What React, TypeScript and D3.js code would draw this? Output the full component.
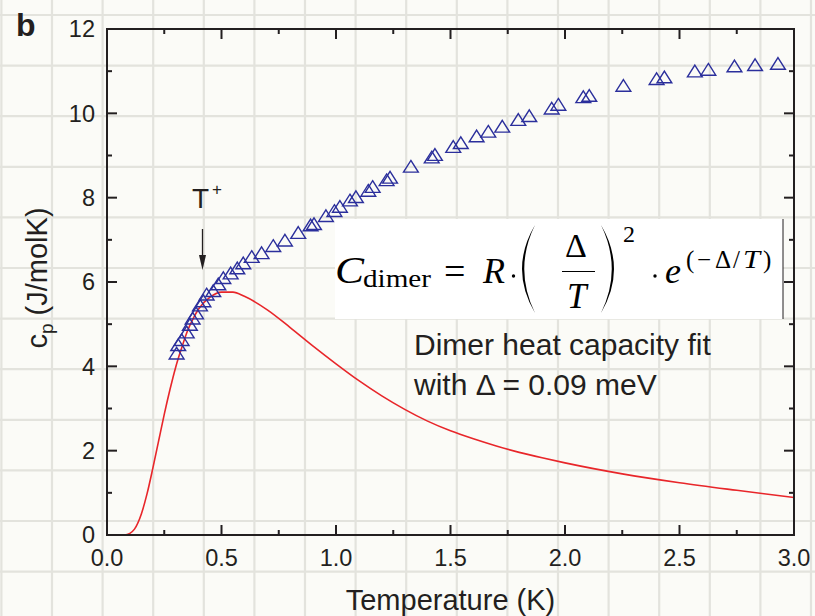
import React from "react";
import * as d3 from "d3";

// Measured heat capacity (triangles)
const tempK = [
  0.304, 0.311, 0.326, 0.348, 0.362, 0.374, 0.389, 0.406, 0.421, 0.435, 0.464, 0.486,
  0.508, 0.54, 0.569, 0.595, 0.632, 0.675, 0.726, 0.777, 0.835, 0.889, 0.904, 0.956,
  0.993, 1.017, 1.061, 1.087, 1.141, 1.16, 1.221, 1.236, 1.327, 1.418, 1.432, 1.512,
  1.545, 1.614, 1.665, 1.726, 1.796, 1.844, 1.942, 1.971, 2.08, 2.106, 2.255, 2.4,
  2.434, 2.567, 2.626, 2.74, 2.83, 2.93,
];
const cpMeasured = [
  4.31, 4.51, 4.63, 4.81, 4.99, 5.14, 5.26, 5.45, 5.55, 5.71, 5.79, 5.95,
  6.1, 6.21, 6.33, 6.45, 6.6, 6.69, 6.86, 6.99, 7.17, 7.35, 7.38, 7.57,
  7.69, 7.79, 7.94, 8.02, 8.17, 8.26, 8.42, 8.48, 8.74, 8.96, 9.02, 9.21,
  9.3, 9.46, 9.57, 9.69, 9.85, 9.94, 10.12, 10.21, 10.39, 10.42, 10.66, 10.82,
  10.86, 11.0, 11.04, 11.12, 11.15, 11.18,
];

// Dimer fit curve (red)
const fitT = [
  0.08, 0.1, 0.12, 0.15, 0.175, 0.2, 0.225, 0.25, 0.275, 0.3, 0.325, 0.35, 0.375, 0.4,
  0.45, 0.5, 0.55, 0.6, 0.7, 0.8, 0.9, 1.0, 1.1, 1.2, 1.3, 1.4, 1.5, 1.6, 1.7, 1.8,
  1.9, 2.0, 2.25, 2.5, 2.75, 3.0,
];
const fitCp = [
  0.0, 0.04, 0.14, 0.5, 0.98, 1.58, 2.22, 2.86, 3.45, 3.98, 4.42, 4.82, 5.12, 5.36,
  5.64, 5.76, 5.76, 5.66, 5.34, 4.92, 4.48, 4.06, 3.66, 3.3, 2.98, 2.7, 2.47, 2.28,
  2.11, 1.96, 1.83, 1.71, 1.45, 1.24, 1.06, 0.89,
];

const xMajor = [0, 0.5, 1.0, 1.5, 2.0, 2.5, 3.0];
const xMinor = [0.25, 0.75, 1.25, 1.75, 2.25, 2.75];
const yMajor = [0, 2, 4, 6, 8, 10, 12];
const yMinor = [1, 3, 5, 7, 9, 11];

const W = 815;
const H = 616;
const L = 107, R = 794, T = 29, B = 535;

const SANS = "'Liberation Sans', Arial, Helvetica, sans-serif";
const SERIF = "'Liberation Serif', 'Times New Roman', serif";
const INK = "#231f20";

export default function App() {
  const x = d3.scaleLinear().domain([0, 3]).range([L, R]);
  const y = d3.scaleLinear().domain([0, 12]).range([B, T]);

  const fitLine = d3
    .line<number>()
    .x((_, i) => x(fitT[i]))
    .y((d) => y(d))
    .curve(d3.curveMonotoneX)(fitCp) as string;

  const gridX: number[] = [];
  for (let g = 1.4; g < W; g += 50.6) gridX.push(g);
  const gridY: number[] = [];
  for (let g = 15; g < H; g += 50.6) gridY.push(g);

  const tri = (cx: number, cy: number) =>
    `M${cx},${cy - 6}L${cx + 7.4},${cy + 5.7}L${cx - 7.4},${cy + 5.7}Z`;

  return (
    <svg
      width={W}
      height={H}
      style={{ position: "absolute", left: 0, top: 0, display: "block" }}
    >
      <rect x={0} y={0} width={W} height={H} fill="#fbfbf7" />
      <g stroke="#e3e3dd" strokeWidth={2.2}>
        {gridX.map((g) => (
          <line key={"gx" + g} x1={g} x2={g} y1={0} y2={H} />
        ))}
        {gridY.map((g) => (
          <line key={"gy" + g} x1={0} x2={W} y1={g} y2={g} />
        ))}
      </g>

      {/* equation box */}
      <rect x={335} y={219} width={448} height={100} fill="#ffffff" />
      <line x1={783} x2={783} y1={219} y2={319} stroke={INK} strokeWidth={1} />

      {/* fit curve */}
      <path d={fitLine} fill="none" stroke="#e8262a" strokeWidth={1.6} />

      {/* data */}
      <g fill="none" stroke="#2b2f9c" strokeWidth={1.4} strokeLinejoin="miter">
        {cpMeasured.map((v, i) => (
          <path key={"d" + i} d={tri(x(tempK[i]), y(v))} />
        ))}
      </g>

      {/* frame */}
      <rect x={L} y={T} width={R - L} height={B - T} fill="none" stroke={INK} strokeWidth={2} />
      <g stroke={INK} strokeWidth={2}>
        {xMajor.map((v) => (
          <g key={"xM" + v}>
            <line x1={x(v)} x2={x(v)} y1={B} y2={B - 10} />
            <line x1={x(v)} x2={x(v)} y1={T} y2={T + 10} />
          </g>
        ))}
        {xMinor.map((v) => (
          <g key={"xm" + v}>
            <line x1={x(v)} x2={x(v)} y1={B} y2={B - 5} />
            <line x1={x(v)} x2={x(v)} y1={T} y2={T + 5} />
          </g>
        ))}
        {yMajor.map((v) => (
          <g key={"yM" + v}>
            <line x1={L} x2={L + 10} y1={y(v)} y2={y(v)} />
            <line x1={R} x2={R - 10} y1={y(v)} y2={y(v)} />
          </g>
        ))}
        {yMinor.map((v) => (
          <g key={"ym" + v}>
            <line x1={L} x2={L + 5} y1={y(v)} y2={y(v)} />
            <line x1={R} x2={R - 5} y1={y(v)} y2={y(v)} />
          </g>
        ))}
      </g>

      {/* tick labels */}
      <g fontFamily={SANS} fontSize={23.5} fill={INK}>
        {xMajor.map((v) => (
          <text key={"xl" + v} x={x(v)} y={565.5} textAnchor="middle">
            {d3.format(".1f")(v)}
          </text>
        ))}
        {yMajor.map((v) => (
          <text key={"yl" + v} x={95} y={y(v)} dy="0.36em" textAnchor="end">
            {v}
          </text>
        ))}
      </g>

      {/* axis titles */}
      <text x={(L + R) / 2} y={610} textAnchor="middle" fontFamily={SANS} fontSize={29} fill={INK}>
        Temperature (K)
      </text>
      <g transform="translate(47,278) rotate(-90)">
        <text textAnchor="middle" fontFamily={SANS} fontSize={29} fill={INK}>
          <tspan>c</tspan>
          <tspan fontSize={19} dy={6}>p</tspan>
          <tspan dy={-6}> (J/molK)</tspan>
        </text>
      </g>

      {/* panel letter */}
      <text x={16} y={36} fontFamily={SANS} fontWeight="bold" fontSize={32} fill={INK}>
        b
      </text>

      {/* T+ annotation */}
      <text x={192} y={208} fontFamily={SANS} fontSize={28} fill={INK}>
        T
      </text>
      <text x={212} y={195} fontFamily={SANS} fontSize={17} fill={INK}>
        +
      </text>
      <line x1={202.5} x2={202.5} y1={229} y2={258} stroke={INK} strokeWidth={1.3} />
      <path d="M199,255 L206,255 L202.5,270 Z" fill={INK} />

      {/* fit description */}
      <g fontFamily={SANS} fontSize={30} fill={INK}>
        <text x={414} y={355}>Dimer heat capacity fit</text>
        <text x={414} y={395}>with Δ = 0.09 meV</text>
      </g>

      {/* equation */}
      <g fontFamily={SERIF} fill="#000" fontWeight="normal">
        <text x={335} y={283} fontSize={37} fontStyle="italic" textLength={29} lengthAdjust="spacingAndGlyphs">C</text>
        <text x={363} y={287} fontSize={25} textLength={68} lengthAdjust="spacingAndGlyphs">dimer</text>
        <text x={444} y={284} fontSize={38}>=</text>
        <text x={483} y={283} fontSize={36} fontStyle="italic">R</text>
        <circle cx={513.5} cy={276} r={1.7} />
        <path d="M535,225 Q509,269 535,313 Q513.5,269 535,225 Z" />
        <text x={565} y={257} fontSize={34}>Δ</text>
        <line x1={562} x2={595} y1={271.5} y2={271.5} stroke="#000" strokeWidth={1.2} />
        <text x={567} y={308} fontSize={35} fontStyle="italic">T</text>
        <path d="M601,225 Q627,269 601,313 Q622.5,269 601,225 Z" />
        <text x={623} y={242} fontSize={24}>2</text>
        <circle cx={655} cy={276} r={1.7} />
        <text x={665} y={283} fontSize={36} fontStyle="italic">e</text>
        <text x={686} y={268} fontSize={25}>(</text>
        <text x={697} y={268} fontSize={25}>−</text>
        <text x={715} y={268} fontSize={25}>Δ</text>
        <text x={733} y={268} fontSize={25}>/</text>
        <text x={743} y={268} fontSize={25} fontStyle="italic" textLength={17} lengthAdjust="spacingAndGlyphs">T</text>
        <text x={763} y={268} fontSize={25}>)</text>
      </g>
    </svg>
  );
}
